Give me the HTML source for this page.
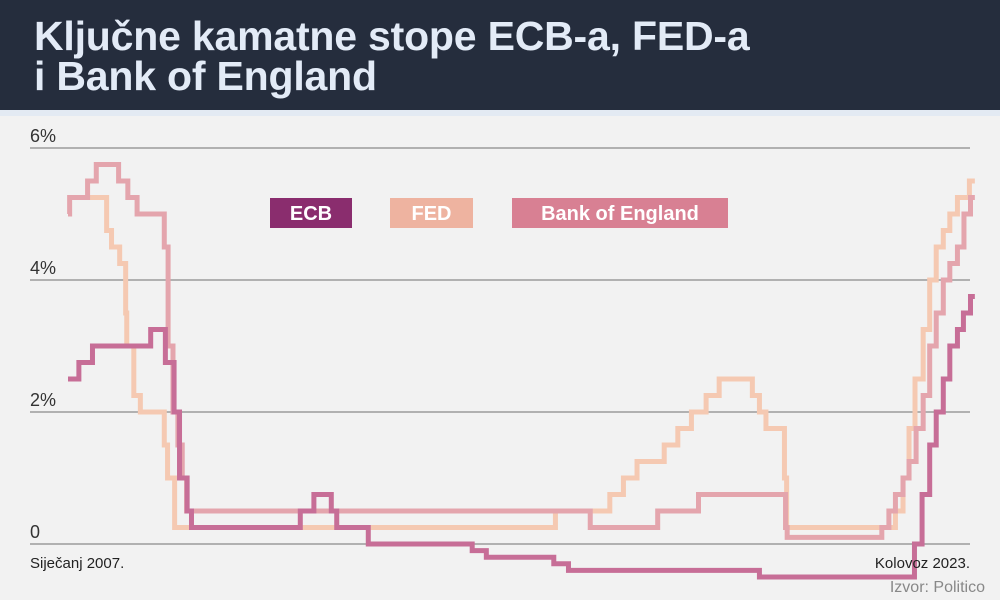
<!DOCTYPE html>
<html><head><meta charset="utf-8">
<style>
body{margin:0;width:1000px;height:600px;background:#f2f2f2;font-family:"Liberation Sans",sans-serif;overflow:hidden;position:relative}
#hdr{position:absolute;left:0;top:0;width:1000px;height:110px;background:#252d3d}
#strip{position:absolute;left:0;top:110px;width:1000px;height:6px;background:#e3eaf3}
#title{position:absolute;left:34px;top:16px;color:#e3ebf7;font-weight:bold;font-size:41px;line-height:40px;letter-spacing:-0.2px}
svg{position:absolute;left:0;top:0}
</style></head>
<body>
<div id="hdr"></div>
<div id="strip"></div>
<div id="title">Ključne kamatne stope ECB-a, FED-a<br>i Bank of England</div>
<svg id="chart" width="1000" height="600"></svg>
<script>
const yTicks=[0,2,4,6];
const yTickLabels=["0","2%","4%","6%"];
const fedT=[2007.0,2007.71,2007.8,2007.95,2008.06,2008.08,2008.21,2008.33,2008.77,2008.83,2008.96,2015.96,2016.96,2017.21,2017.46,2017.96,2018.21,2018.46,2018.73,2018.97,2019.58,2019.71,2019.83,2020.17,2020.21,2022.21,2022.35,2022.46,2022.57,2022.72,2022.84,2022.96,2023.09,2023.21,2023.35,2023.57,2023.67];
const fedV=[5.25,4.75,4.5,4.25,3.5,3.0,2.25,2.0,1.5,1.0,0.25,0.5,0.75,1.0,1.25,1.5,1.75,2.0,2.25,2.5,2.25,2.0,1.75,1.0,0.25,0.5,1.0,1.75,2.5,3.25,4.0,4.5,4.75,5.0,5.25,5.5,5.5];
const boeT=[2007.0,2007.03,2007.36,2007.52,2007.93,2008.1,2008.27,2008.77,2008.84,2008.93,2009.02,2009.1,2009.18,2016.6,2017.84,2018.59,2020.19,2020.22,2021.96,2022.09,2022.21,2022.35,2022.46,2022.59,2022.72,2022.84,2022.96,2023.09,2023.21,2023.35,2023.47,2023.59,2023.67];
const boeV=[5.0,5.25,5.5,5.75,5.5,5.25,5.0,4.5,3.0,2.0,1.5,1.0,0.5,0.25,0.5,0.75,0.25,0.1,0.25,0.5,0.75,1.0,1.25,1.75,2.25,3.0,3.5,4.0,4.25,4.5,5.0,5.25,5.25];
const ecbT=[2007.0,2007.2,2007.45,2008.52,2008.79,2008.95,2009.05,2009.19,2009.27,2011.27,2011.52,2011.84,2011.94,2012.52,2014.43,2014.69,2015.93,2016.2,2019.71,2022.56,2022.7,2022.84,2022.96,2023.09,2023.21,2023.35,2023.46,2023.59,2023.67];
const ecbV=[2.5,2.75,3.0,3.25,2.75,2.0,1.0,0.5,0.25,0.5,0.75,0.5,0.25,0.0,-0.1,-0.2,-0.3,-0.4,-0.5,0.0,0.75,1.5,2.0,2.5,3.0,3.25,3.5,3.75,3.75];
const series=[
 {name:"fed",t:fedT,v:fedV,color:"#f5c9b2"},
 {name:"boe",t:boeT,v:boeV,color:"#e4a5ad"},
 {name:"ecb",t:ecbT,v:ecbV,color:"#c76e97"}
];
const xs=t=>68+(t-2007)*54.4;
const ys=v=>544-v*66;
const svg=document.getElementById('chart');
const NS="http://www.w3.org/2000/svg";
function mk(tag,attrs){const e=document.createElementNS(NS,tag);for(const k in attrs)e.setAttribute(k,attrs[k]);svg.appendChild(e);return e;}
yTicks.forEach((v,i)=>{
 const l=mk('line',{x1:30,x2:970,y1:ys(v),y2:ys(v),stroke:'#8a8a8a','stroke-width':1.2});
 
 
 const t=mk('text',{x:30,y:ys(v)-6,'font-size':18,fill:'#333','font-family':'Liberation Sans, sans-serif'});
 t.textContent=yTickLabels[i];
 
 
});
series.forEach(s=>{
 let d='';
 for(let i=0;i<s.t.length;i++){
  const x=xs(s.t[i]),y=ys(s.v[i]);
  if(i===0)d+='M'+x+' '+y;else d+=' H'+x+' V'+y;
 }
 const p=mk('path',{d:d,fill:'none',stroke:s.color,'stroke-width':5,'stroke-linejoin':'miter'});
 
 
});
const legend=[["ECB",270,82,"#8a2d6e"],["FED",390,83,"#eeb3a0"],["Bank of England",512,216,"#d88093"]];
legend.forEach(l=>{
 const r=mk('rect',{x:l[1],y:198,width:l[2],height:30,fill:l[3]});
 
 
 const t=mk('text',{x:l[1]+l[2]/2,y:220,'text-anchor':'middle','font-size':20,'font-weight':'bold',fill:'#fff','font-family':'Liberation Sans, sans-serif'});
 t.textContent=l[0];
 
 
});
const a=mk('text',{x:30,y:568,'font-size':15,fill:'#222','font-family':'Liberation Sans, sans-serif'});a.textContent='Siječanj 2007.';


const b=mk('text',{x:970,y:568,'text-anchor':'end','font-size':15,fill:'#222','font-family':'Liberation Sans, sans-serif'});b.textContent='Kolovoz 2023.';


const c=mk('text',{x:985,y:592,'text-anchor':'end','font-size':16,fill:'#888','font-family':'Liberation Sans, sans-serif'});c.textContent='Izvor: Politico';


</script>
</body></html>
